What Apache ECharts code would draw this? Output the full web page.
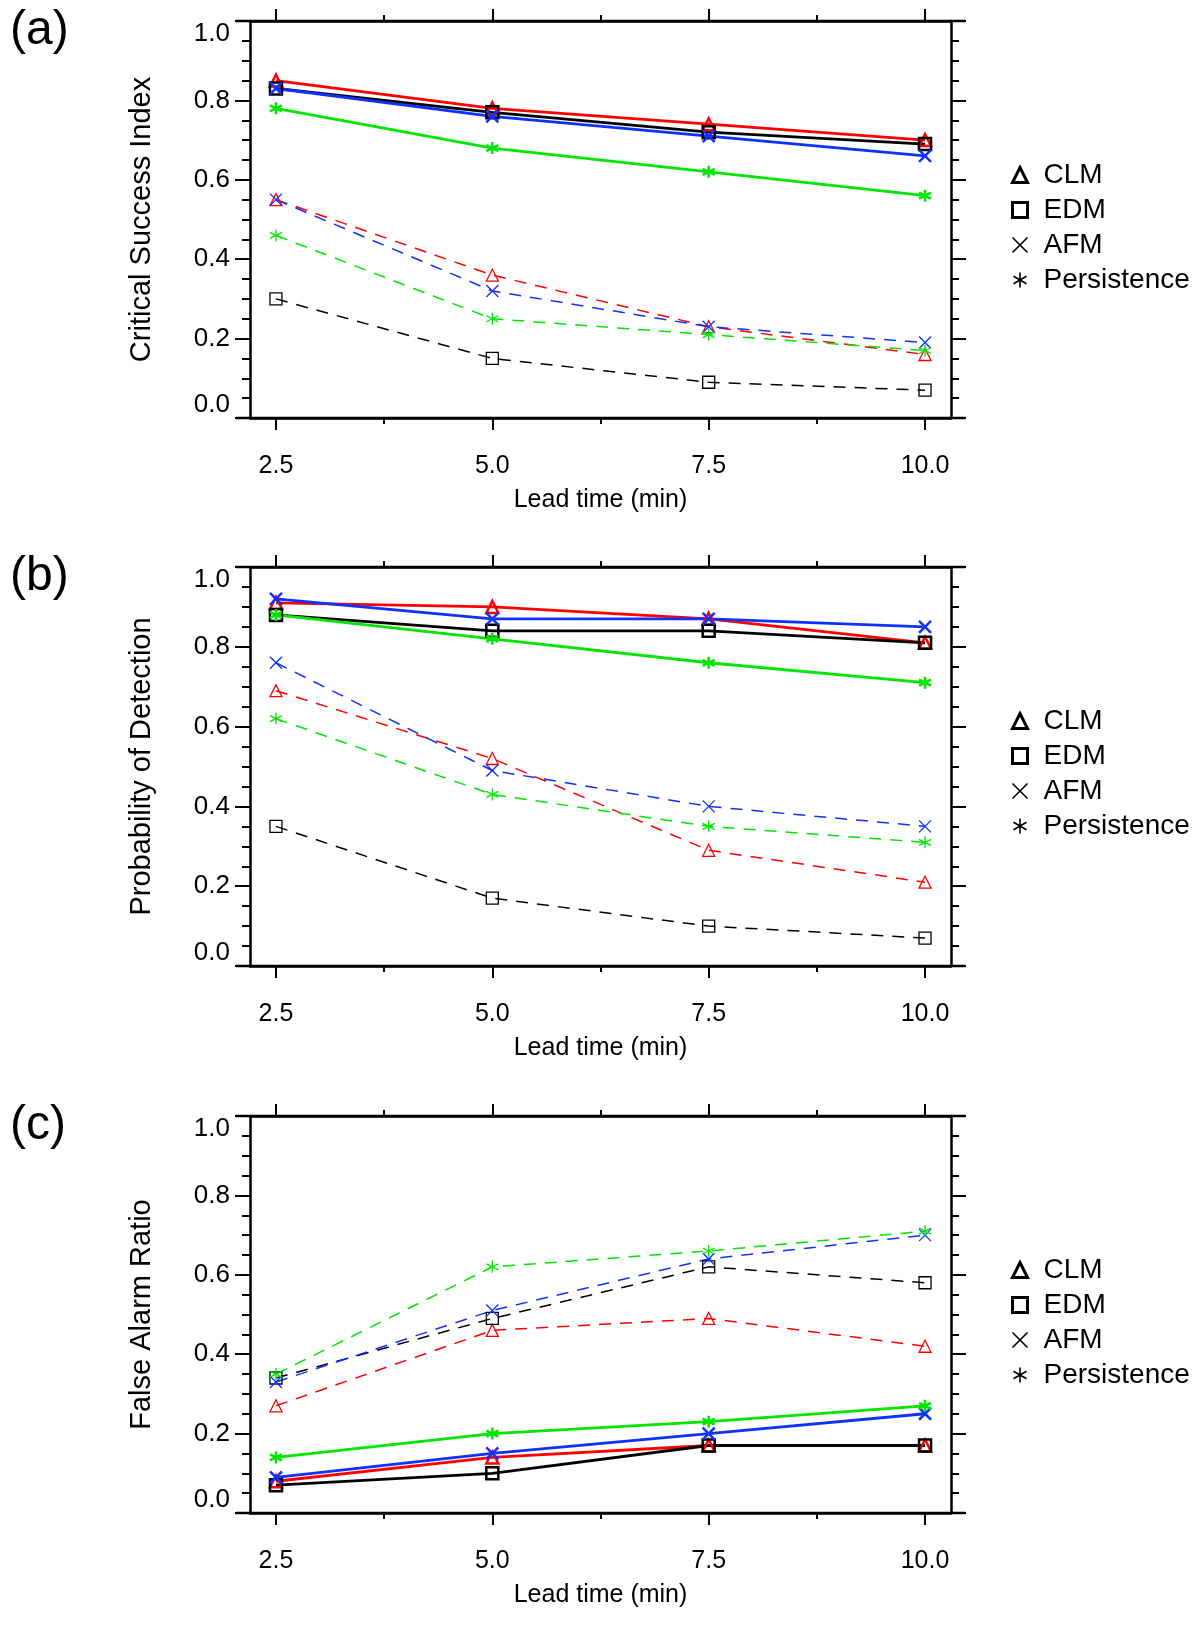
<!DOCTYPE html>
<html>
<head>
<meta charset="utf-8">
<title>CSI / POD / FAR vs lead time</title>
<script src="https://cdn.jsdelivr.net/npm/echarts@6/dist/echarts.min.js"></script>
<style>
  html, body { margin: 0; padding: 0; background: #fff; }
  #main { width: 1200px; height: 1626px; }
</style>
</head>
<body>
<div id="main"></div>
<script>
// lead times (min)
var leadTimes = [2.5, 5.0, 7.5, 10.0];
var majorTicks = [2.5, 5.0, 7.5, 10.0];
var minorTicks = [3.75, 6.25, 8.75];
var methods = ['CLM', 'EDM', 'AFM', 'Persistence'];

// (a) Critical Success Index
var csiClmSolid = [0.85, 0.78, 0.74, 0.70];
var csiEdmSolid = [0.83, 0.77, 0.72, 0.69];
var csiAfmSolid = [0.83, 0.76, 0.71, 0.66];
var csiPerSolid = [0.78, 0.68, 0.62, 0.56];
var csiClmDash = [0.55, 0.36, 0.23, 0.16];
var csiEdmDash = [0.30, 0.15, 0.09, 0.07];
var csiAfmDash = [0.55, 0.32, 0.23, 0.19];
var csiPerDash = [0.46, 0.25, 0.21, 0.17];

// (b) Probability of Detection
var podClmSolid = [0.91, 0.90, 0.87, 0.81];
var podEdmSolid = [0.88, 0.84, 0.84, 0.81];
var podAfmSolid = [0.92, 0.87, 0.87, 0.85];
var podPerSolid = [0.88, 0.82, 0.76, 0.71];
var podClmDash = [0.69, 0.52, 0.29, 0.21];
var podEdmDash = [0.35, 0.17, 0.10, 0.07];
var podAfmDash = [0.76, 0.49, 0.40, 0.35];
var podPerDash = [0.62, 0.43, 0.35, 0.31];

// (c) False Alarm Ratio
var farClmSolid = [0.08, 0.14, 0.17, 0.17];
var farEdmSolid = [0.07, 0.10, 0.17, 0.17];
var farAfmSolid = [0.09, 0.15, 0.20, 0.25];
var farPerSolid = [0.14, 0.20, 0.23, 0.27];
var farClmDash = [0.27, 0.46, 0.49, 0.42];
var farEdmDash = [0.34, 0.49, 0.62, 0.58];
var farAfmDash = [0.33, 0.51, 0.64, 0.70];
var farPerDash = [0.35, 0.62, 0.66, 0.71];

var FONT = '"Liberation Sans", Arial, sans-serif';
var colors = { CLM: '#ff0000', EDM: '#000000', AFM: '#1030ff', Persistence: '#00e600' };
var symbols = {
    CLM: 'triangle',
    EDM: 'rect',
    AFM: 'path://M0,0L10,10M10,0L0,10',
    Persistence: 'path://M5,0L5,10M0.67,2.5L9.33,7.5M0.67,7.5L9.33,2.5'
};
var legendSize = { CLM: [15, 13], EDM: [12, 12], AFM: [13, 13], Persistence: [15, 15] };

var GRID_LEFT = 250, GRID_W = 701;
var panels = [
    { tag: '(a)', yName: 'Critical Success Index', top: 21, height: 397,
      solid: [csiClmSolid, csiEdmSolid, csiAfmSolid, csiPerSolid],
      dash: [csiClmDash, csiEdmDash, csiAfmDash, csiPerDash] },
    { tag: '(b)', yName: 'Probability of Detection', top: 567, height: 399,
      solid: [podClmSolid, podEdmSolid, podAfmSolid, podPerSolid],
      dash: [podClmDash, podEdmDash, podAfmDash, podPerDash] },
    { tag: '(c)', yName: 'False Alarm Ratio', top: 1116, height: 397,
      solid: [farClmSolid, farEdmSolid, farAfmSolid, farPerSolid],
      dash: [farClmDash, farEdmDash, farAfmDash, farPerDash] }
];

var grid = [], xAxis = [], yAxis = [], series = [], legend = [], graphic = [];

function pairs(vals) {
    return leadTimes.map(function (t, i) { return [t, vals[i]]; });
}

panels.forEach(function (p, gi) {
    grid.push({ left: GRID_LEFT, top: p.top, width: GRID_W, height: p.height });

    var base = { gridIndex: gi, type: 'value', min: 2.2, max: 10.3,
        splitLine: { show: false } };
    // bottom, major ticks + labels
    xAxis.push(Object.assign({}, base, {
        position: 'bottom',
        name: 'Lead time (min)', nameLocation: 'middle', nameGap: 70,
        nameTextStyle: { fontSize: 25, fontFamily: FONT, color: '#000' },
        axisLine: { show: true, lineStyle: { color: '#000', width: 2.5 } },
        axisTick: { show: true, inside: false, length: 12, customValues: majorTicks,
            lineStyle: { color: '#000', width: 2 } },
        axisLabel: { show: true, margin: 36, fontSize: 25, fontFamily: FONT, color: '#000',
            customValues: majorTicks,
            formatter: function (v) { return v.toFixed(1); } }
    }));
    // bottom, minor ticks
    xAxis.push(Object.assign({}, base, {
        position: 'bottom',
        axisLine: { show: false },
        axisTick: { show: true, length: 6, customValues: minorTicks,
            lineStyle: { color: '#000', width: 2 } },
        axisLabel: { show: false }
    }));
    // top, major ticks
    xAxis.push(Object.assign({}, base, {
        position: 'top',
        axisLine: { show: true, lineStyle: { color: '#000', width: 2.5 } },
        axisTick: { show: true, length: 12, customValues: majorTicks,
            lineStyle: { color: '#000', width: 2 } },
        axisLabel: { show: false }
    }));
    // top, minor ticks
    xAxis.push(Object.assign({}, base, {
        position: 'top',
        axisLine: { show: false },
        axisTick: { show: true, length: 6, customValues: minorTicks,
            lineStyle: { color: '#000', width: 2 } },
        axisLabel: { show: false }
    }));

    var ybase = { gridIndex: gi, type: 'value', min: 0, max: 1, interval: 0.2,
        splitLine: { show: false },
        axisLine: { show: true, lineStyle: { color: '#000', width: 2.5 } },
        axisTick: { show: true, inside: false, length: 15, lineStyle: { color: '#000', width: 2 } },
        minorTick: { show: true, splitNumber: 4, length: 8, lineStyle: { color: '#000', width: 2 } },
        minorSplitLine: { show: false } };
    yAxis.push(Object.assign({}, ybase, {
        position: 'left',
        name: p.yName, nameLocation: 'middle', nameGap: 94,
        nameTextStyle: { fontSize: 29, fontFamily: FONT, color: '#000' },
        axisLabel: { show: true, margin: 20, fontSize: 26, fontFamily: FONT, color: '#000',
            verticalAlignMaxLabel: 'top', verticalAlignMinLabel: 'bottom',
            formatter: function (v) { return v.toFixed(1); } }
    }));
    yAxis.push(Object.assign({}, ybase, {
        position: 'right',
        axisLabel: { show: false }
    }));

    // dashed first, solid on top
    methods.forEach(function (m, mi) {
        series.push({
            name: m, type: 'line',
            xAxisIndex: gi * 4, yAxisIndex: gi * 2,
            data: pairs(p.dash[mi]),
            symbol: symbols[m], symbolSize: 12, showAllSymbol: true,
            lineStyle: { color: colors[m], width: 1.5, type: [12, 9] },
            itemStyle: { color: 'transparent', borderColor: colors[m], borderWidth: 1.3 },
            emphasis: { disabled: true },
            animation: false
        });
    });
    methods.forEach(function (m, mi) {
        series.push({
            name: m, type: 'line',
            xAxisIndex: gi * 4, yAxisIndex: gi * 2,
            data: pairs(p.solid[mi]),
            symbol: symbols[m], symbolSize: 12, showAllSymbol: true,
            lineStyle: { color: colors[m], width: 2.8, type: 'solid' },
            itemStyle: { color: 'transparent', borderColor: colors[m], borderWidth: 2.5 },
            emphasis: { disabled: true },
            animation: false
        });
    });

    legend.push({
        orient: 'vertical', left: 1006, top: p.top + 134,
        itemWidth: 15, itemHeight: 15, itemGap: 5,
        selectedMode: false,
        textStyle: { fontSize: 28, fontFamily: FONT, color: '#000', lineHeight: 30,
            padding: [0, 0, 0, 11] },
        data: methods.map(function (m) {
            var thin = (m === 'AFM' || m === 'Persistence');
            return { name: m, icon: symbols[m],
                itemStyle: { color: 'transparent', borderColor: '#000', borderWidth: thin ? 1.6 : 3 } };
        })
    });

    graphic.push({
        type: 'text', left: 10, top: p.top - 14,
        style: { text: p.tag, fontSize: 48, fontFamily: FONT, fill: '#000' }
    });
    // top and bottom frame lines run a little past the box on both sides
    [p.top, p.top + p.height].forEach(function (yy) {
        graphic.push({
            type: 'line', silent: true,
            shape: { x1: GRID_LEFT - 14, y1: yy, x2: GRID_LEFT + GRID_W + 14, y2: yy },
            style: { stroke: '#000', lineWidth: 2.5 }
        });
    });
});

var myChart = echarts.init(document.getElementById('main'), null, { renderer: 'canvas' });
myChart.setOption({
    backgroundColor: '#fff',
    animation: false,
    grid: grid,
    xAxis: xAxis,
    yAxis: yAxis,
    legend: legend,
    graphic: graphic,
    series: series
});
</script>
</body>
</html>
